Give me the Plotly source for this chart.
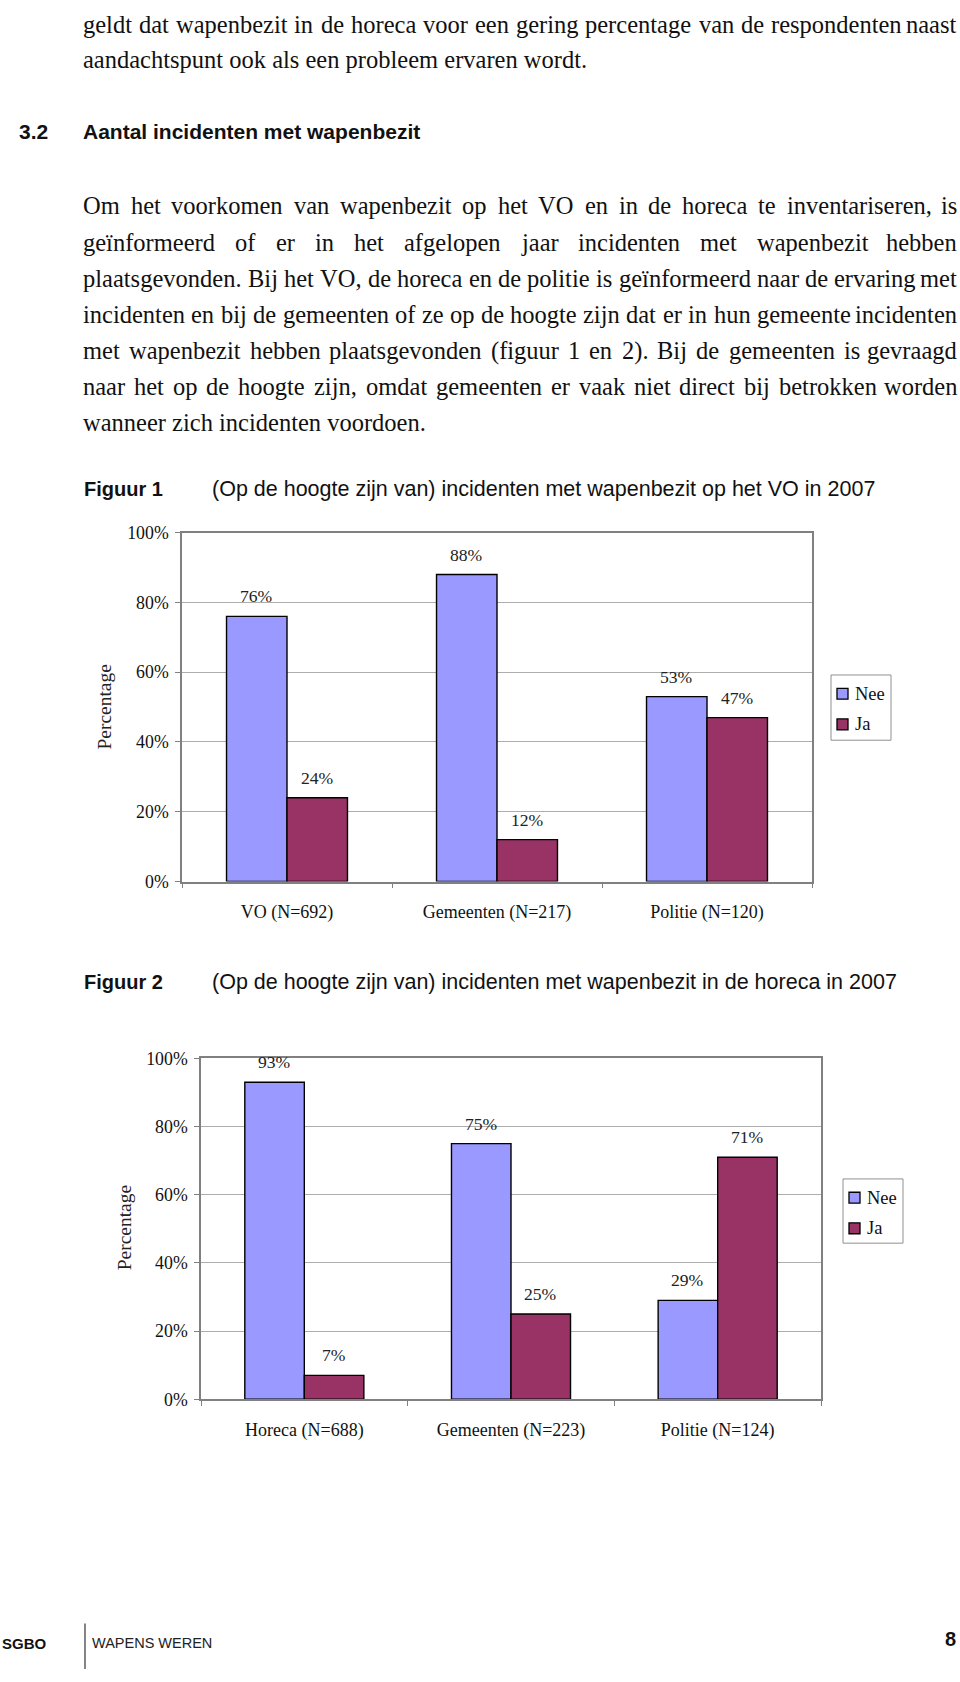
import plotly.graph_objects as go

# ---------------- data ----------------
fig1_categories = ["VO (N=692)", "Gemeenten (N=217)", "Politie (N=120)"]
fig1_nee = [76, 88, 53]
fig1_ja = [24, 12, 47]

fig2_categories = ["Horeca (N=688)", "Gemeenten (N=223)", "Politie (N=124)"]
fig2_nee = [93, 75, 29]
fig2_ja = [7, 25, 71]

series_names = ["Nee", "Ja"]
y_ticks = [0, 20, 40, 60, 80, 100]

fig1_title = "(Op de hoogte zijn van) incidenten met wapenbezit op het VO in 2007"
fig2_title = "(Op de hoogte zijn van) incidenten met wapenbezit in de horeca in 2007"

para1 = [
    "geldt dat wapenbezit in de horeca voor een gering percentage van de respondenten naast",
    "aandachtspunt ook als een probleem ervaren wordt.",
]
heading_num = "3.2"
heading_txt = "Aantal incidenten met wapenbezit"
para2 = [
    "Om het voorkomen van wapenbezit op het VO en in de horeca te inventariseren, is",
    "geïnformeerd of er in het afgelopen jaar incidenten met wapenbezit hebben",
    "plaatsgevonden. Bij het VO, de horeca en de politie is geïnformeerd naar de ervaring met",
    "incidenten en bij de gemeenten of ze op de hoogte zijn dat er in hun gemeente incidenten",
    "met wapenbezit hebben plaatsgevonden (figuur 1 en 2). Bij de gemeenten is gevraagd",
    "naar het op de hoogte zijn, omdat gemeenten er vaak niet direct bij betrokken worden",
    "wanneer zich incidenten voordoen.",
]

# ---------------- page geometry ----------------
W, H = 960, 1682
def X(px): return px / W
def Y(py): return 1 - py / H

NEE_COL = "#9999FF"
JA_COL = "#993366"
SERIF = "Liberation Serif, Times New Roman, serif"
SANS = "Liberation Sans, Arial, sans-serif"
BAR_GAP = 0.424

# Times / Liberation Serif advance widths (per 1000 em)
TW = {' ': 250, '!': 333, '(': 333, ')': 333, ',': 250, '-': 333, '.': 250, ':': 278,
      '0': 500, '1': 500, '2': 500, '3': 500, '4': 500, '5': 500, '6': 500, '7': 500, '8': 500, '9': 500,
      'A': 722, 'B': 667, 'C': 667, 'D': 722, 'E': 611, 'F': 556, 'G': 722, 'H': 722, 'I': 333,
      'J': 389, 'K': 722, 'L': 611, 'M': 889, 'N': 722, 'O': 722, 'P': 556, 'Q': 722, 'R': 667,
      'S': 556, 'T': 611, 'U': 722, 'V': 722, 'W': 944, 'X': 722, 'Y': 722, 'Z': 611,
      'a': 444, 'b': 500, 'c': 444, 'd': 500, 'e': 444, 'f': 333, 'g': 500, 'h': 500, 'i': 278,
      'j': 278, 'k': 500, 'l': 278, 'm': 778, 'n': 500, 'o': 500, 'p': 500, 'q': 500, 'r': 333,
      's': 389, 't': 278, 'u': 500, 'v': 500, 'w': 722, 'x': 500, 'y': 500, 'z': 444, 'ï': 278}
def text_w(s, size):
    return sum(TW.get(c, 500) for c in s) * size / 1000.0

BODY_SIZE = 24.5
LEFT, RIGHT = 82, 958

annotations = []
shapes = []
def add_text(px, py, txt, size, family=SERIF, anchor="left", color="#111111", bold=False):
    annotations.append(dict(
        x=X(px), y=Y(py), xref="paper", yref="paper", text=txt, showarrow=False,
        xanchor=anchor, yanchor="middle", borderpad=0,
        font=dict(family=family, size=size, color=color, weight=700 if bold else 400)))

def add_line(line, py, justify):
    words = line.split(" ")
    if not justify or len(words) < 2:
        add_text(LEFT, py, line, BODY_SIZE)
        return
    ww = [text_w(w, BODY_SIZE) for w in words]
    gap = (RIGHT - LEFT - sum(ww)) / (len(words) - 1)
    x = LEFT
    for i, w in enumerate(words):
        if i == len(words) - 1:
            add_text(RIGHT, py, w, BODY_SIZE, anchor="right")
        else:
            add_text(x, py, w, BODY_SIZE)
        x += ww[i] + gap

p1_y = [15, 50]
for i, ln in enumerate(para1):
    add_line(ln, p1_y[i], i < len(para1) - 1)

add_text(18, 123, heading_num, 21, family=SANS, bold=True)
add_text(82, 123, heading_txt, 21, family=SANS, bold=True)

p2_y = [198, 235, 272, 308, 345, 381, 417]
for i, ln in enumerate(para2):
    add_line(ln, p2_y[i], i < len(para2) - 1)

# figure captions
add_text(83, 485, "Figuur 1", 20, family=SANS, bold=True)
add_text(211, 485, fig1_title, 21.5, family=SANS)
add_text(83, 984, "Figuur 2", 20, family=SANS, bold=True)
add_text(211, 984, fig2_title, 21.5, family=SANS)

# y-axis titles
for (px, py) in [(105, 705), (124, 1232)]:
    annotations.append(dict(x=X(px), y=Y(py), xref="paper", yref="paper", text="Percentage",
                            textangle=-90, showarrow=False, xanchor="center", yanchor="middle",
                            font=dict(family=SERIF, size=19.5, color="#222222")))

# footer
add_text(1, 1653, "SGBO", 15, family=SANS, bold=True)
add_text(91, 1653, "WAPENS WEREN", 14.5, family=SANS, color="#222222")
add_text(957, 1649, "8", 20, family=SANS, anchor="right", bold=True)
shapes.append(dict(type="line", xref="paper", yref="paper", x0=X(85), x1=X(85),
                   y0=Y(1633), y1=Y(1679), line=dict(color="#333333", width=1.2)))

# ---------------- charts ----------------
charts = [
    dict(cats=fig1_categories, nee=fig1_nee, ja=fig1_ja, xa="x", ya="y",
         left=182, right=812, top=529, bottom=882, leg=(831, 673, 891, 739)),
    dict(cats=fig2_categories, nee=fig2_nee, ja=fig2_ja, xa="x2", ya="y2",
         left=201, right=821, top=1061, bottom=1406, leg=(843, 1183, 903, 1248)),
]

fig = go.Figure()
layout_axes = {}
for k, c in enumerate(charts):
    colors = [NEE_COL, JA_COL]
    for name, vals, col in [(series_names[0], c["nee"], NEE_COL), (series_names[1], c["ja"], JA_COL)]:
        fig.add_trace(go.Bar(
            x=c["cats"], y=vals, name=name, xaxis=c["xa"], yaxis=c["ya"],
            marker=dict(color=col, line=dict(color="#000000", width=1.4)),
            showlegend=False, hoverinfo="skip"))
    xkey = "xaxis" if k == 0 else "xaxis2"
    ykey = "yaxis" if k == 0 else "yaxis2"
    layout_axes[xkey] = dict(
        domain=[X(c["left"]), X(c["right"])], anchor=c["ya"], type="category",
        showline=True, mirror=True, linecolor="#808080", linewidth=1.5,
        ticks="outside", tickson="boundaries", ticklen=5, tickcolor="#808080",
        tickfont=dict(family=SERIF, size=18, color="#111111"), ticklabelstandoff=13,
        showgrid=False, fixedrange=True)
    layout_axes[ykey] = dict(
        domain=[Y(c["bottom"]), Y(c["top"])], anchor=c["xa"], range=[0, 100],
        tickvals=y_ticks, ticktext=[f"{v}%" for v in y_ticks],
        showline=True, mirror=True, linecolor="#808080", linewidth=1.5,
        ticks="outside", ticklen=5, tickcolor="#808080",
        tickfont=dict(family=SERIF, size=17.8, color="#111111"), ticklabelstandoff=3,
        showgrid=True, gridcolor="#adadad", gridwidth=1, zeroline=False, fixedrange=True)
    # value labels
    cat_w = (c["right"] - c["left"]) / len(c["cats"])
    bar_w = cat_w * (1 - BAR_GAP) / 2
    for vals, sh in [(c["nee"], -bar_w / 2), (c["ja"], bar_w / 2)]:
        for cat, v in zip(c["cats"], vals):
            annotations.append(dict(x=cat, y=v, xref=c["xa"], yref=c["ya"], text=f"{v}%",
                                    showarrow=False, xanchor="center", yanchor="bottom",
                                    xshift=sh, yshift=8,
                                    font=dict(family=SERIF, size=17.6, color="#222222")))
    # legend box (drawn like the Excel legend)
    lx0, ly0, lx1, ly1 = c["leg"]
    shapes.append(dict(type="rect", xref="paper", yref="paper", x0=X(lx0), x1=X(lx1),
                       y0=Y(ly1), y1=Y(ly0), line=dict(color="#909090", width=1),
                       fillcolor="#ffffff"))
    row_y = [ly0 + 19, ly0 + 50]
    for name, col, ry in zip(series_names, colors, row_y):
        shapes.append(dict(type="rect", xref="paper", yref="paper",
                           x0=X(lx0 + 6), x1=X(lx0 + 17), y0=Y(ry + 5.5), y1=Y(ry - 5.5),
                           line=dict(color="#000000", width=1.3), fillcolor=col))
        add_text(lx0 + 23, ry, name, 18.5, family=SERIF, color="#111111")

fig.update_layout(
    width=W, height=H, autosize=False,
    margin=dict(l=0, r=0, t=0, b=0, pad=0),
    paper_bgcolor="#ffffff", plot_bgcolor="#ffffff",
    barmode="group", bargap=BAR_GAP, bargroupgap=0,
    showlegend=False,
    annotations=annotations,
    shapes=shapes,
    **layout_axes,
)

fig.write_html("out.html", config={"displayModeBar": False})
